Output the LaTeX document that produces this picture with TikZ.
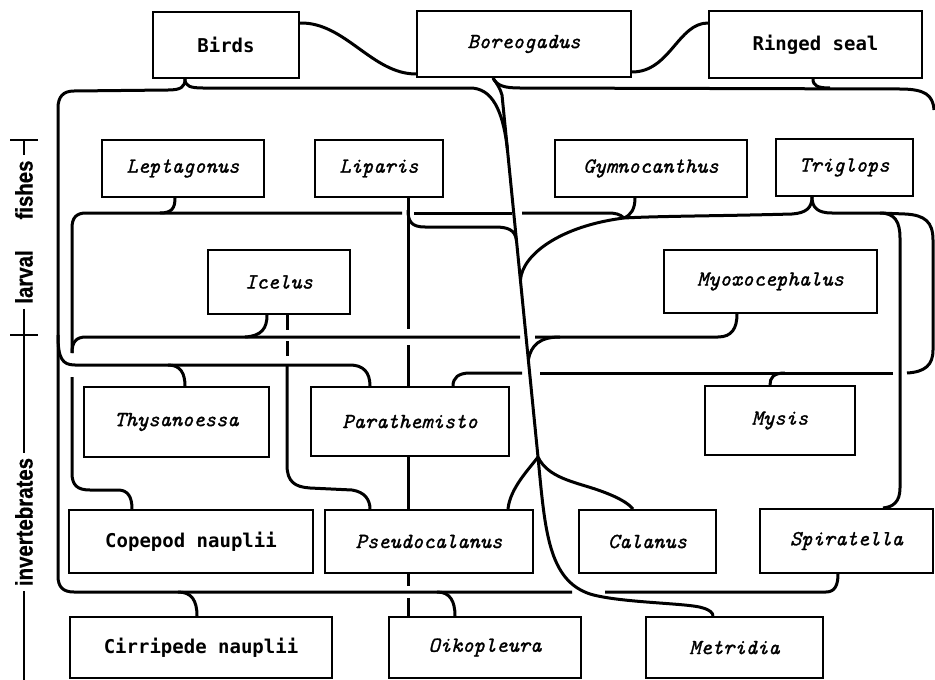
\documentclass[tikz,border=0pt]{standalone}
\usepackage{fontspec}
\newfontfamily\gothfont{DejaVu Sans Mono}
\newfontfamily\genfont{lmmono10-regular.otf}[ItalicFont=lmmono10-italic.otf, ItalicFeatures={FakeBold=1.2}]
\newfontfamily\axisfont{Liberation Sans Bold}[FakeStretch=0.85, FakeBold=0.6]
\begin{document}
\begin{tikzpicture}[x=1pt,y=-1pt]
    \tikzstyle{every node}+=[inner sep=0pt]
    \tikzstyle{box}=[draw, line width=2pt, fill=white]
    \tikzstyle{plain}=[box, font=\gothfont\bfseries\fontsize{19}{22}\selectfont]
    \tikzstyle{genus}=[box, font=\genfont\itshape\fontsize{21.5}{24}\selectfont]
    \tikzstyle{wire}=[line width=3pt]
    \tikzstyle{axis}=[line width=2.5pt]
    \tikzstyle{group}=[rotate=90, inner sep=5pt, font=\axisfont\fontsize{24}{26}\selectfont]
    \useasboundingbox (0,0) rectangle (935,680);
    % boxes
    \node[plain, minimum width=146pt, minimum height=66pt] (birds) at (226,45) {Birds};
    \node[genus, minimum width=214pt, minimum height=66pt] (boreo) at (524,44) {Boreogadus};
    \node[plain, minimum width=213pt, minimum height=67pt] (seal) at (815.5,44.5) {Ringed seal};
    \node[genus, minimum width=162pt, minimum height=57pt] (lepta) at (183,168.5) {Leptagonus};
    \node[genus, minimum width=128pt, minimum height=57pt] (lipar) at (379,168.5) {Liparis};
    \node[genus, minimum width=192pt, minimum height=57pt] (gymno) at (651,168.5) {Gymnocanthus};
    \node[genus, minimum width=137pt, minimum height=57pt] (trigl) at (844.5,167.5) {Triglops};
    \node[genus, minimum width=142pt, minimum height=64pt] (icelus) at (279,282) {Icelus};
    \node[genus, minimum width=213pt, minimum height=63pt] (myoxo) at (770.5,281.5) {Myoxocephalus};
    \node[genus, minimum width=185pt, minimum height=70pt] (thysa) at (176.5,422) {Thysanoessa};
    \node[genus, minimum width=198pt, minimum height=69pt] (parat) at (410,421.5) {Parathemisto};
    \node[genus, minimum width=150pt, minimum height=69pt] (mysis) at (780,420.5) {Mysis};
    \node[plain, minimum width=244pt, minimum height=63pt] (copep) at (191,541.5) {Copepod nauplii};
    \node[genus, minimum width=208pt, minimum height=63pt] (pseud) at (429,541.5) {Pseudocalanus};
    \node[genus, minimum width=137pt, minimum height=63pt] (calan) at (647.5,541.5) {Calanus};
    \node[genus, minimum width=173pt, minimum height=64pt] (spira) at (846.5,541) {Spiratella};
    \node[plain, minimum width=262pt, minimum height=61pt] (cirri) at (201,647.5) {Cirripede nauplii};
    \node[genus, minimum width=192pt, minimum height=61pt] (oikop) at (485,647.5) {Oikopleura};
    \node[genus, minimum width=177pt, minimum height=61pt] (metri) at (734.5,647.5) {Metridia};
    % side scale
    \node[group] (fishes) at (24,190) {fishes};
    \node[group] (larval) at (24,277) {larval};
    \node[group] (invert) at (24,522) {invertebrates};
    \coordinate (top) at (24,140);
    \coordinate (mid) at (24,335);
    \coordinate (bot) at (24,680);
    \draw[axis] (10,140) -- (38,140);
    \draw[axis] (10,335) -- (38,335);
    \draw[axis] (top) -- (fishes.east);
    \draw[axis] (larval.west) -- (invert.east);
    \draw[axis] (invert.west) -- (bot);
    % stems
    \coordinate (birdsS) at (185,0 |- birds.south);
    \coordinate (boreoS) at (493,0 |- boreo.south);
    \coordinate (sealS) at (813,0 |- seal.south);
    \coordinate (leptaS) at (175,0 |- lepta.south);
    \coordinate (liparS) at (408,0 |- lipar.south);
    \coordinate (gymnoS) at (635,0 |- gymno.south);
    \coordinate (trigS) at (812,0 |- trigl.south);
    \coordinate (icelS) at (267,0 |- icelus.south);
    \coordinate (myoxS) at (737,0 |- myoxo.south);
    \coordinate (dgA) at (507.5,150);
    \coordinate (dgB) at (516.4,240);
    \coordinate (dgC) at (520.5,280);
    \coordinate (dgD) at (528.3,360);
    \coordinate (fork) at (538,457);
    \coordinate (junc) at (624,218);
    % top
    \draw[wire] (birds.east |- 0,23) .. controls (345,22) and (372,74) .. (boreo.west |- 0,74);
    \draw[wire] (boreo.east |- 0,72) .. controls (670,72) and (678,23) .. (seal.west |- 0,23);
    \draw[wire] (birdsS) .. controls (185,87) and (181,90) .. (168,90) -- (74,91) .. controls (63,91) and (58,97) .. (58,108) -- (58,576) .. controls (58,587) and (63,592) .. (74,592) -- (572,592);
    \draw[wire] (birdsS) .. controls (185,86) and (190,88) .. (203,88) -- (470,88) .. controls (492,88) and (503,110) .. (dgA);
    \draw[wire] (boreoS) .. controls (497,86) and (505,88) .. (520,88) -- (900,89) .. controls (925,89) and (933,95) .. (934,110);
    \draw[wire] (sealS) .. controls (813,86) and (818,88) .. (830,88);
    % Boreogadus down to Metridia
    \draw[wire] (boreoS) .. controls (497,84) and (500,88) .. (502,95) -- (fork) .. controls (545,530) and (548,580) .. (590,594) .. controls (620,603) and (690,603) .. (703,608) .. controls (710,610) and (713,613) .. (713,0 |- metri.north);
    \draw[wire] (fork) .. controls (530,468) and (510,488) .. (508,0 |- pseud.north);
    \draw[wire] (fork) .. controls (548,478) and (575,482) .. (598,490) .. controls (618,497) and (628,503) .. (633,0 |- calan.north);
    % Liparis
    \draw[wire] (liparS) -- (408,329);
    \draw[wire] (408,345) -- (408,0 |- parat.north);
    \draw[wire] (408,0 |- parat.south) -- (408,0 |- pseud.north);
    \draw[wire] (408,0 |- pseud.south) -- (408,586);
    \draw[wire] (408,598) -- (408,0 |- oikop.north);
    \draw[wire] (408,210) .. controls (408,222) and (412,227) .. (425,227) -- (495,227) .. controls (508,227) and (515,230) .. (dgB);
    % Leptagonus, Gymnocanthus, Triglops
    \draw[wire] (gymnoS) .. controls (635,209) and (631,215) .. (junc);
    \draw[wire] (junc) .. controls (620,214) and (615,213) .. (608,213) -- (522,213);
    \draw[wire] (512,213) -- (414,213);
    \draw[wire] (402,213) -- (86,213) .. controls (76,213) and (72,218) .. (72,228) -- (72,353);
    \draw[wire] (leptaS) .. controls (175,208) and (172,213) .. (160,213);
    \draw[wire] (trigS) .. controls (812,208) and (806,213) .. (792,214) .. controls (720,216) and (660,216) .. (junc) .. controls (560,226) and (522,255) .. (dgC);
    \draw[wire] (trigS) .. controls (812,208) and (818,213) .. (832,213) -- (880,213) .. controls (895,213) and (900,222) .. (900,238) -- (900,488) .. controls (900,502) and (893,507) .. (883,0 |- spira.north);
    \draw[wire] (880,213) -- (905,214) .. controls (925,215) and (933,222) .. (933,240) -- (933,350) .. controls (933,365) and (925,372) .. (907,373);
    % Parathemisto and Mysis line
    \draw[wire] (893,373) -- (540,373);
    \draw[wire] (522,373) -- (470,373) .. controls (458,373) and (453,378) .. (453,0 |- parat.north);
    \draw[wire] (770,0 |- mysis.north) .. controls (770,378) and (773,373) .. (785,373);
    % Icelus and Myoxocephalus line
    \draw[wire] (icelS) .. controls (267,328) and (262,336) .. (245,337);
    \draw[wire] (520,337) -- (86,337) .. controls (76,337) and (72,342) .. (72,353);
    \draw[wire] (myoxS) .. controls (737,328) and (732,337) .. (718,337) -- (535,337);
    \draw[wire] (560,337) .. controls (540,337) and (531,345) .. (dgD);
    \draw[wire] (287,0 |- icelus.south) -- (287,330);
    \draw[wire] (287,341) -- (287,356);
    \draw[wire] (287,365) -- (287,465) .. controls (287,482) and (295,487) .. (310,488) -- (352,490) .. controls (365,492) and (370,500) .. (370,0 |- pseud.north);
    % Thysanoessa, Copepod nauplii
    \draw[wire] (58,335) .. controls (58,358) and (62,365) .. (75,365) -- (350,365) .. controls (363,365) and (370,372) .. (370,0 |- parat.north);
    \draw[wire] (185,0 |- thysa.north) .. controls (185,374) and (181,365) .. (168,365);
    \draw[wire] (72,377) -- (72,473) .. controls (72,485) and (77,490) .. (90,490) -- (118,490) .. controls (128,490) and (132,497) .. (132,0 |- copep.north);
    % bottom line
    \draw[wire] (197,0 |- cirri.north) .. controls (197,601) and (192,592) .. (178,592);
    \draw[wire] (455,0 |- oikop.north) .. controls (455,601) and (450,592) .. (437,592);
    \draw[wire] (605,592) -- (826,592) .. controls (835,592) and (838,585) .. (838,0 |- spira.south);
\end{tikzpicture}
\end{document}
